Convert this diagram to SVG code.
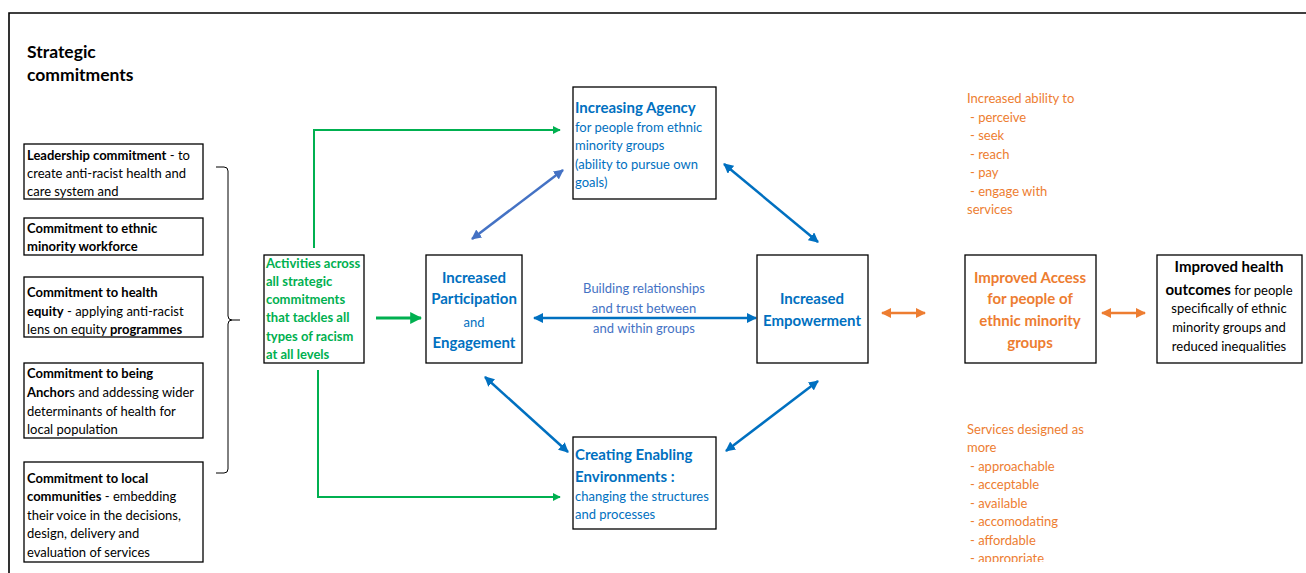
<svg xmlns="http://www.w3.org/2000/svg" width="1306" height="573" viewBox="0 0 1306 573">
<style>
text{font-family:Lato,"Liberation Sans",sans-serif;font-size:13px;fill:#000}
.b{font-weight:bold}
.box{fill:#fff;stroke:#000;stroke-width:1.3}
.g{fill:#00B050}
.bl{fill:#0070C0}
.lb{fill:#4472C4}
.o{fill:#ED7D31}
.h{font-size:15px;font-weight:bold}
.c{text-anchor:middle}
.t{font-size:17.5px;font-weight:bold}
</style>
<defs>
<marker id="ag" viewBox="0 0 10 10" refX="9" refY="5" markerWidth="4" markerHeight="4" orient="auto-start-reverse" markerUnits="strokeWidth"><path d="M0,0L10,5L0,10z" fill="#00B050"/></marker>
<marker id="ab" viewBox="0 0 10 10" refX="9" refY="5" markerWidth="4" markerHeight="4" orient="auto-start-reverse" markerUnits="strokeWidth"><path d="M0,0L10,5L0,10z" fill="#0070C0"/></marker>
<marker id="al" viewBox="0 0 10 10" refX="9" refY="5" markerWidth="4" markerHeight="4" orient="auto-start-reverse" markerUnits="strokeWidth"><path d="M0,0L10,5L0,10z" fill="#4472C4"/></marker>
<marker id="ao" viewBox="0 0 10 10" refX="9" refY="5" markerWidth="4" markerHeight="4" orient="auto-start-reverse" markerUnits="strokeWidth"><path d="M0,0L10,5L0,10z" fill="#ED7D31"/></marker>
<clipPath id="clip"><rect x="940" y="400" width="200" height="162"/></clipPath>
</defs>
<rect width="1306" height="573" fill="#fff"/>
<path d="M9,573V13H1306" fill="none" stroke="#000" stroke-width="1.6"/>
<g id="title"><text class="t" x="27" y="58">Strategic</text><text class="t" x="27" y="81">commitments</text></g>

<g id="c1"><rect class="box" x="24" y="144" width="179" height="55"/>
<text x="27" y="160"><tspan class="b">Leadership commitment</tspan> - to</text><text x="27" y="178">create anti-racist health and</text><text x="27" y="196">care system and</text></g>
<g id="c2"><rect class="box" x="24" y="218" width="179" height="37"/>
<text class="b" x="27" y="233">Commitment to ethnic</text><text class="b" x="27" y="251">minority workforce</text></g>
<g id="c3"><rect class="box" x="24" y="277" width="179" height="60"/>
<text class="b" x="27" y="297">Commitment to health</text><text x="27" y="316"><tspan class="b">equity</tspan> - applying anti-racist</text><text x="27" y="334">lens on equity <tspan class="b">programmes</tspan></text></g>
<g id="c4"><rect class="box" x="24" y="363" width="179" height="75"/>
<text class="b" x="27" y="378">Commitment to being</text><text x="27" y="397"><tspan class="b">Anchor</tspan>s and addessing wider</text><text x="27" y="416">determinants of health for</text><text x="27" y="434">local population</text></g>
<g id="c5"><rect class="box" x="24" y="462" width="179" height="100"/>
<text class="b" x="27" y="483">Commitment to local</text><text x="27" y="501"><tspan class="b">communities</tspan> - embedding</text><text x="27" y="520">their voice in the decisions,</text><text x="27" y="538">design, delivery and</text><text x="27" y="557">evaluation of services</text></g>

<g id="brace"><path d="M216,167H224Q228,167 228,171V316Q228,320 232,320H240M232,320Q228,320 228,324V469Q228,473 224,473H216" fill="none" stroke="#000" stroke-width="1"/></g>

<g id="connectors" fill="none">
<path d="M314,248V130H560" stroke="#00B050" stroke-width="2" marker-end="url(#ag)"/>
<path d="M318,370V497H560" stroke="#00B050" stroke-width="2" marker-end="url(#ag)"/>
<path d="M376,318H421" stroke="#00B050" stroke-width="3" marker-end="url(#ag)"/>
<path d="M472,239L563,170" stroke="#4472C4" stroke-width="2.5" marker-start="url(#al)" marker-end="url(#al)"/>
<path d="M724,164L818,242" stroke="#0070C0" stroke-width="2.5" marker-start="url(#ab)" marker-end="url(#ab)"/>
<path d="M485,377L568,452" stroke="#0070C0" stroke-width="2.5" marker-start="url(#ab)" marker-end="url(#ab)"/>
<path d="M818,381L726,451" stroke="#0070C0" stroke-width="2.5" marker-start="url(#ab)" marker-end="url(#ab)"/>
<path d="M534,318H756" stroke="#0070C0" stroke-width="2.5" marker-start="url(#ab)" marker-end="url(#ab)"/>
<path d="M882,313H925" stroke="#ED7D31" stroke-width="2.5" marker-start="url(#ao)" marker-end="url(#ao)"/>
<path d="M1102,313H1145" stroke="#ED7D31" stroke-width="2.5" marker-start="url(#ao)" marker-end="url(#ao)"/>
</g>

<g id="activities"><rect class="box" x="264" y="255" width="100" height="108"/>
<text class="g b" x="266" y="268">Activities across</text><text class="g b" x="266" y="286">all strategic</text><text class="g b" x="266" y="304">commitments</text><text class="g b" x="266" y="322">that tackles all</text><text class="g b" x="266" y="341">types of racism</text><text class="g b" x="266" y="359">at all levels</text></g>

<g id="participation"><rect class="box" x="426" y="255" width="96" height="108"/>
<text class="bl h c" x="474" y="283">Increased</text><text class="bl h c" x="474" y="304">Participation</text><text class="bl c" x="474" y="327">and</text><text class="bl h c" x="474" y="348">Engagement</text></g>

<g id="agency"><rect class="box" x="573" y="87" width="143" height="112"/>
<text class="bl h" x="575" y="113">Increasing Agency</text><text class="bl" x="575" y="132">for people from ethnic</text><text class="bl" x="575" y="150">minority groups</text><text class="bl" x="575" y="169">(ability to pursue own</text><text class="bl" x="575" y="187">goals)</text></g>

<g id="relationships"><text class="lb c" x="644" y="293">Building relationships</text><text class="lb c" x="644" y="313">and trust between</text><text class="lb c" x="644" y="333">and within groups</text></g>

<g id="empowerment"><rect class="box" x="757" y="255" width="111" height="108"/>
<text class="bl h c" x="812" y="304">Increased</text><text class="bl h c" x="812" y="326">Empowerment</text></g>

<g id="enabling"><rect class="box" x="573" y="437" width="143" height="92"/>
<text class="bl h" x="575" y="460">Creating Enabling</text><text class="bl h" x="575" y="482">Environments :</text><text class="bl" x="575" y="501">changing the structures</text><text class="bl" x="575" y="519">and processes</text></g>

<g id="ability"><text class="o" x="967" y="103">Increased ability to</text><text class="o" x="970" y="122">- perceive</text><text class="o" x="970" y="140">- seek</text><text class="o" x="970" y="159">- reach</text><text class="o" x="970" y="177">- pay</text><text class="o" x="970" y="196">- engage with</text><text class="o" x="967" y="214">services</text></g>

<g id="access"><rect class="box" x="965" y="255" width="131" height="108"/>
<text class="o h c" x="1030" y="283">Improved Access</text><text class="o h c" x="1030" y="304">for people of</text><text class="o h c" x="1030" y="326">ethnic minority</text><text class="o h c" x="1030" y="348">groups</text></g>

<g id="outcomes"><rect class="box" x="1157" y="255" width="145" height="108"/>
<text class="h c" x="1229" y="272">Improved health</text><text class="c" x="1229" y="295"><tspan class="h">outcomes</tspan> for people</text><text class="c" x="1229" y="313">specifically of ethnic</text><text class="c" x="1229" y="332">minority groups and</text><text class="c" x="1229" y="351">reduced inequalities</text></g>

<g id="services" clip-path="url(#clip)"><text class="o" x="967" y="434">Services designed as</text><text class="o" x="967" y="452">more</text><text class="o" x="970" y="471">- approachable</text><text class="o" x="970" y="489">- acceptable</text><text class="o" x="970" y="508">- available</text><text class="o" x="970" y="526">- accomodating</text><text class="o" x="970" y="545">- affordable</text><text class="o" x="970" y="563">- appropriate</text></g>
</svg>
